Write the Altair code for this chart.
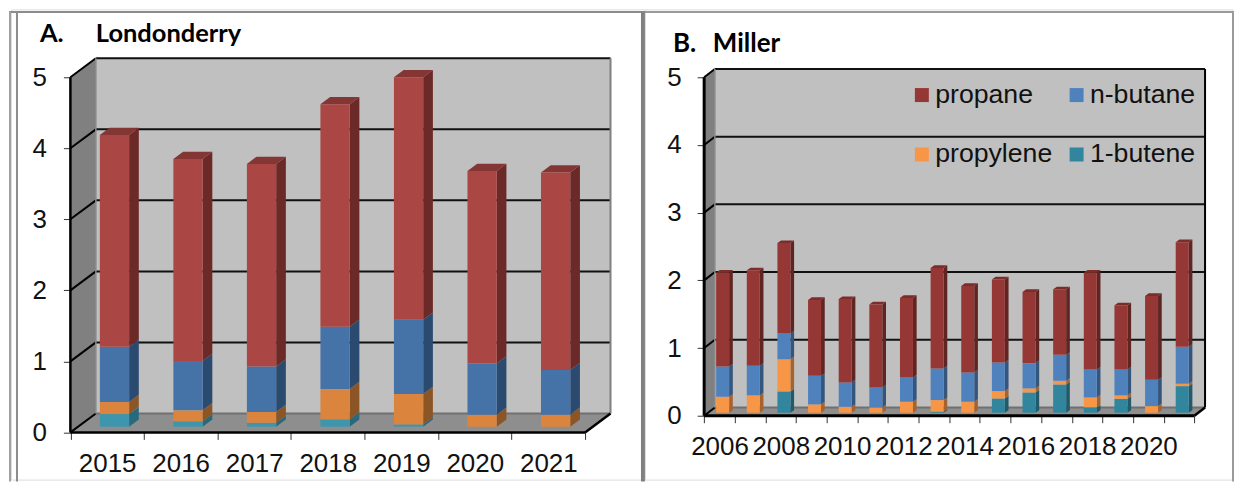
import altair as alt
import pandas as pd

series_names = ["propane", "n-butane", "propylene", "1-butene"]
stack_order = ["1-butene", "propylene", "n-butane", "propane"]

years_a = [2015, 2016, 2017, 2018, 2019, 2020, 2021]
butene_a = [0.178, 0.075, 0.056, 0.103, 0.032, 0.0, 0.0]
propylene_a = [0.169, 0.155, 0.151, 0.427, 0.428, 0.169, 0.169]
nbutane_a = [0.778, 0.694, 0.641, 0.876, 1.045, 0.721, 0.628]
propane_a = [2.982, 2.846, 2.852, 3.134, 3.415, 2.71, 2.783]

years_b = list(range(2006, 2022))
butene_b = [0, 0, 0.315, 0, 0, 0, 0, 0.015, 0, 0.211, 0.3, 0.418, 0.079, 0.206, 0, 0.393]
propylene_b = [0.236, 0.256, 0.475, 0.123, 0.088, 0.079, 0.162, 0.172, 0.162, 0.109, 0.059, 0.054, 0.147, 0.05, 0.098, 0.035]
nbutane_b = [0.447, 0.437, 0.38, 0.423, 0.359, 0.295, 0.359, 0.467, 0.433, 0.422, 0.374, 0.383, 0.413, 0.383, 0.389, 0.545]
propane_b = [1.387, 1.411, 1.337, 1.121, 1.233, 1.226, 1.175, 1.485, 1.278, 1.228, 1.052, 0.969, 1.431, 0.949, 1.239, 1.547]

colors_a = {"propane": ("#AA4643", "#6B2A28", "#843634"),
            "n-butane": ("#4572A7", "#2B4A6F", "#365A85"),
            "propylene": ("#DB843D", "#8C5525", "#A86530"),
            "1-butene": ("#3D96AE", "#286A7C", "#307A8E")}
colors_b = {"propane": ("#953735", "#5F2523", "#7A2D2B"),
            "n-butane": ("#4F81BD", "#34557C", "#416A9B"),
            "propylene": ("#F79646", "#A66330", "#C87838"),
            "1-butene": ("#31859C", "#215A6A", "#296F82")}

FONT = "Liberation Sans"
TITLE_FONT = "Lato"
INK = "#111111"


def panel(cfg):
    n = len(cfg["years"])
    ux, uy = cfg["ux"], cfg["uy"]
    xs = alt.Scale(domain=[(cfg["vx0"] - cfg["fx"]) / ux, (cfg["vx0"] + cfg["vw"] - cfg["fx"]) / ux],
                   zero=False, nice=False)
    ys = alt.Scale(domain=[(cfg["fy"] - cfg["vy0"] - cfg["vh"]) / uy, (cfg["fy"] - cfg["vy0"]) / uy],
                   zero=False, nice=False)
    D, H = cfg["depth_x"] / ux, cfg["depth_y"] / uy

    x_axis = alt.Axis(values=list(range(n + 1)), orient="bottom", offset=-(cfg["vy0"] + cfg["vh"] - cfg["fy"]),
                      domain=False, grid=False, tickSize=7, tickColor="#333333", tickWidth=1,
                      labelFont=FONT, labelFontSize=26, labelColor=INK, labelPadding=cfg["x_pad"],
                      labelOffset=ux / 2, labelAngle=0, labelOverlap=False, labelFlush=False, labelBound=False,
                      labelExpr=cfg["label_expr"], title=None)
    y_axis = alt.Axis(values=[0, 1, 2, 3, 4, 5], orient="left", offset=-(cfg["fx"] - cfg["vx0"]),
                      domain=False, grid=False, tickSize=7, tickColor="#333333", tickWidth=1,
                      labelFont=FONT, labelFontSize=26, labelColor=INK, labelPadding=cfg["y_pad"],
                      format="d", labelFlush=False, labelBound=False, title=None)
    X = lambda: alt.X("x:Q", scale=xs, axis=x_axis, title=None)
    Y = lambda: alt.Y("y:Q", scale=ys, axis=y_axis, title=None, stack=None)

    faces = []
    def face(gid, col, pts):
        for px, py, py2 in pts:
            faces.append({"g": gid, "c": col, "x": px, "y": py, "y2": py2})
    face("lw", cfg["wall"], [(0, 0, 5), (D, H, 5 + H)])
    face("fl", cfg["floor"], [(0, 0, 0), (D, 0, H), (n, 0, H), (n + D, H, H)])

    front = []
    shift, bdx = cfg["bar_shift_y"] / uy, cfg["bar_dx"] / ux
    bdy = cfg["bar_dy"] / uy
    bl, bw = cfg["bar_left"], cfg["bar_w"]
    stacks = dict(zip(stack_order, cfg["vals"]))
    for k in range(n):
        base = shift
        x0, x1 = k + bl, k + bl + bw
        for s in stack_order:
            v = stacks[s][k]
            if v <= 0:
                continue
            top = base + v
            fc, sc, tc = cfg["colors"][s]
            front.append({"x": x0, "x2": x1, "y": base, "y2": top, "s": s})
            face(f"s{k}{s}", sc, [(x1, base, top), (x1 + bdx, base + bdy, top + bdy)])
            base = top
        tc = cfg["colors"]["propane"][2]
        face(f"t{k}", tc, [(x0, base, base), (x0 + bdx, base, base + bdy),
                           (x1, base, base + bdy), (x1 + bdx, base + bdy, base + bdy)])

    lines = []
    def seg(gid, col, w, a, b):
        lines.append({"g": gid, "i": 0, "c": col, "w": w, "x": a[0], "y": a[1]})
        lines.append({"g": gid, "i": 1, "c": col, "w": w, "x": b[0], "y": b[1]})
    for v in range(1, 6):
        seg(f"b{v}", "#111111", cfg["grid_w"], (D, v + H), (n + D, v + H))
    for v in range(0, 6):
        seg(f"d{v}", "#000000", cfg["grid_w"], (0, v), (D, v + H))
    seg("back0", "#707070", 2, (D, H), (n + D, H))
    seg("backl", "#8a8a8a", 1.5, (D, H), (D, 5 + H))
    seg("backr", cfg["back_r"], 2, (n + D, H), (n + D, 5 + H))
    seg("fdiag", "#000000", 2.5, (n, 0), (n + D, H))
    seg("faxis", "#000000", cfg["axis_w"], (0, 0), (n, 0))
    seg("laxis", "#000000", cfg["axis_w"], (0, 0), (0, 5))

    back = alt.Chart(pd.DataFrame([{"x": D, "x2": n + D, "y": H, "y2": 5 + H}])).mark_rect(color="#C0C0C0").encode(
        x=X(), x2="x2:Q", y=Y(), y2="y2:Q")
    walls = alt.Chart(pd.DataFrame([f for f in faces if f["g"] in ("lw", "fl")])).mark_area().encode(
        x=X(), y=Y(), y2="y2:Q", detail="g:N", color=alt.Color("c:N", scale=None))
    outline = alt.Chart(pd.DataFrame(lines)).mark_line().encode(
        x=X(), y=Y(), detail="g:N", order="i:Q", color=alt.Color("c:N", scale=None),
        strokeWidth=alt.StrokeWidth("w:Q", scale=None))
    bar_faces = alt.Chart(pd.DataFrame([f for f in faces if f["g"] not in ("lw", "fl")])).mark_area().encode(
        x=X(), y=Y(), y2="y2:Q", detail="g:N", color=alt.Color("c:N", scale=None))

    legend = None
    if cfg["legend"]:
        legend = alt.Legend(orient="none", legendX=cfg["legend"][0], legendY=cfg["legend"][1], columns=2,
                            direction="horizontal",
                            title=None, symbolType="square", symbolSize=196, symbolStrokeWidth=0,
                            labelFont=FONT, labelFontSize=26.7, labelColor=INK, labelOffset=0,
                            rowPadding=cfg["legend"][2], columnPadding=cfg["legend"][3], padding=0,
                            gridAlign="all", labelLimit=300)
    bars = alt.Chart(pd.DataFrame(front)).mark_bar().encode(
        x=X(), x2="x2:Q", y=Y(), y2="y2:Q",
        color=alt.Color("s:N", legend=legend, title=None,
                        scale=alt.Scale(domain=series_names, range=[cfg["colors"][s][0] for s in series_names])))

    layers = [back, walls, outline, bar_faces, bars]
    for txt, px, py, size in cfg["texts"]:
        layers.append(alt.Chart(pd.DataFrame({"t": [txt]})).mark_text(
            font=TITLE_FONT, fontWeight="bold", fontSize=size, align="left", baseline="alphabetic",
            color="#000000", clip=True).encode(text="t:N", x=alt.value(px - cfg["vx0"]), y=alt.value(py - cfg["vy0"])))

    for (x1, y1, x2, y2, col) in cfg["frame"]:
        layers.append(alt.Chart(pd.DataFrame({"a": [0]})).mark_rect(color=col).encode(
            x=alt.value(x1 - cfg["vx0"]), x2=alt.value(x2 - cfg["vx0"]),
            y=alt.value(y1 - cfg["vy0"]), y2=alt.value(min(y2 - cfg["vy0"], cfg["vh"] + 2))))

    return alt.layer(*layers).properties(width=cfg["vw"], height=cfg["vh"])


VH = 471
cfg_a = dict(years=years_a, vals=[butene_a, propylene_a, nbutane_a, propane_a], colors=colors_a,
             vx0=10, vy0=8, vw=635, vh=VH,
             fx=69.5, fy=431.7, ux=(585 - 69.5) / 7, uy=71.14,
             depth_x=25.5, depth_y=19, bar_left=0.4006, bar_w=0.398, bar_dx=9.7, bar_dy=7.3, bar_shift_y=5.7,
             wall="#808080", floor="#8E8E8E", grid_w=2, axis_w=2.5, back_r="#808080",
             x_pad=11, y_pad=17, label_expr="datum.value < 7 ? format(2015 + datum.value, 'd') : ''",
             legend=None,
             texts=[("Figure 5.29:  Yearly LPG Averages in PPBC", 7, 3, 25.5),
                    ("A.", 39, 40.5, 25.5), ("Londonderry", 95, 40.5, 25.5)],
             frame=[(8, 9.5, 645, 11.5, "#8c8c8c"), (8, 10, 10, 489, "#a0a0a0"),
                    (15, 10, 17, 489, "#8c8c8c"), (641, 10, 645, 489, "#808080")])

cfg_b = dict(years=years_b, vals=[butene_b, propylene_b, nbutane_b, propane_b], colors=colors_b,
             vx0=645, vy0=8, vw=588, vh=VH,
             fx=704.3, fy=415, ux=(1195.3 - 704.3) / 16, uy=67.8,
             depth_x=10.7, depth_y=8.3, bar_left=0.391, bar_w=0.4236, bar_dx=3.7, bar_dy=2.6, bar_shift_y=3,
             wall="#808080", floor="#8E8E8E", grid_w=2, axis_w=3, back_r="#000000",
             x_pad=11, y_pad=16, label_expr="datum.value < 16 && datum.value % 2 == 0 ? format(2006 + datum.value, 'd') : ''",
             legend=(264, 72, 32, 11),
             texts=[("B.", 673, 51, 26), ("Miller", 713, 51, 26)],
             frame=[(645, 9.5, 1235, 11.5, "#9a9a9a"), (1233, 10, 1235, 489, "#9a9a9a")])

chart = alt.hconcat(panel(cfg_a), panel(cfg_b), spacing=0, padding=0, bounds="flush").resolve_scale(
    color="independent").configure_view(stroke=None).configure(background="white")
chart.save("out.html", embed_options={"renderer": "svg", "actions": False})
